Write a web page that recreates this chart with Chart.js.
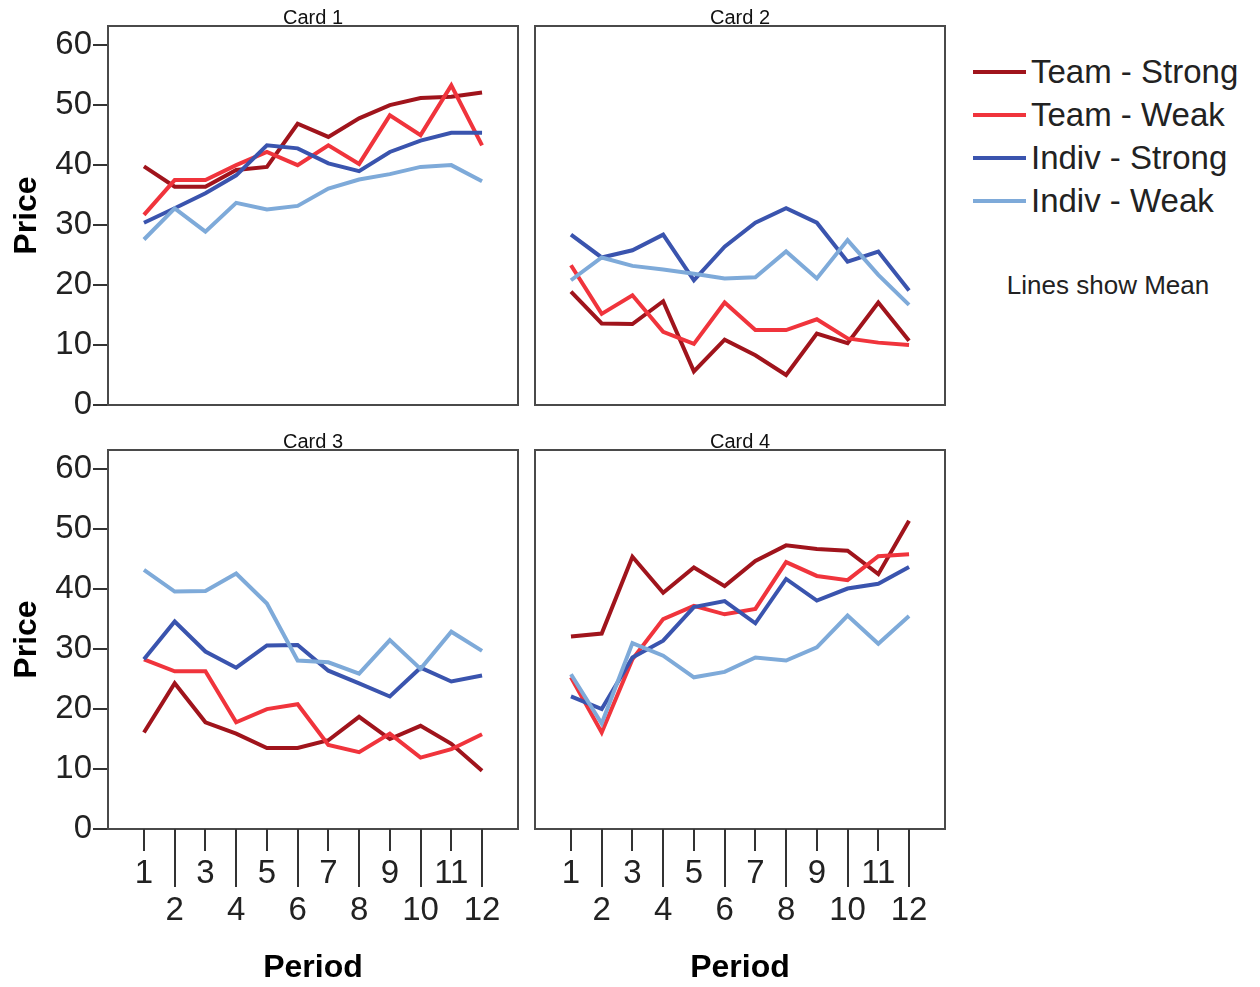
<!DOCTYPE html>
<html>
<head>
<meta charset="utf-8">
<script src="https://cdn.jsdelivr.net/npm/chart.js@4.4.1/dist/chart.umd.min.js"></script>
<style>
  body { margin: 0; background: #fff; width: 1260px; height: 987px; position: relative; overflow: hidden; font-family: "Liberation Sans", Arial, sans-serif; }
  canvas { position: absolute; }
  #legend { position: absolute; left: 973px; top: 50px; }
  .row { height: 43px; display: flex; align-items: center; font-size: 33px; color: #222; white-space: nowrap; }
  .sw { display: inline-block; width: 53px; height: 4px; margin-right: 5px; }
  #note { position: absolute; left: 990px; width: 236px; top: 270px; text-align: center; font-size: 26px; color: #222; }
</style>
</head>
<body>
<canvas id="c1" width="530" height="430" style="left:0;top:0"></canvas>
<canvas id="c2" width="430" height="430" style="left:530px;top:0"></canvas>
<canvas id="c3" width="530" height="563" style="left:0;top:424px"></canvas>
<canvas id="c4" width="430" height="563" style="left:530px;top:424px"></canvas>
<div id="legend"></div>
<div id="note">Lines show Mean</div>
<script>
const periods = [1, 2, 3, 4, 5, 6, 7, 8, 9, 10, 11, 12];
const yTicks = [0, 10, 20, 30, 40, 50, 60];
const seriesNames = ['Team - Strong', 'Team - Weak', 'Indiv - Strong', 'Indiv - Weak'];
const seriesColors = ['#a0141c', '#f0343c', '#3a54ae', '#7eaad9'];
const cardTitles = ['Card 1', 'Card 2', 'Card 3', 'Card 4'];

// Card 1
const teamStrong1 = [39.8, 36.4, 36.4, 39.2, 39.7, 46.9, 44.7, 47.8, 50.0, 51.2, 51.4, 52.1];
const teamWeak1   = [31.7, 37.5, 37.5, 40.0, 42.2, 40.0, 43.3, 40.2, 48.3, 45.0, 53.3, 43.3];
const indivStrong1= [30.4, 32.8, 35.3, 38.3, 43.3, 42.8, 40.3, 39.0, 42.2, 44.1, 45.4, 45.4];
const indivWeak1  = [27.6, 32.8, 28.9, 33.7, 32.6, 33.2, 36.1, 37.6, 38.5, 39.7, 40.0, 37.3];
// Card 2
const teamStrong2 = [18.9, 13.6, 13.5, 17.3, 5.6, 10.9, 8.3, 5.0, 11.9, 10.3, 17.1, 10.7];
const teamWeak2   = [23.3, 15.2, 18.3, 12.2, 10.2, 17.1, 12.5, 12.5, 14.3, 11.1, 10.4, 10.0];
const indivStrong2= [28.4, 24.6, 25.8, 28.4, 20.8, 26.4, 30.4, 32.8, 30.4, 23.9, 25.6, 19.1];
const indivWeak2  = [20.8, 24.6, 23.2, 22.6, 21.9, 21.1, 21.3, 25.6, 21.1, 27.5, 21.7, 16.7];
// Card 3
const teamStrong3 = [16.1, 24.3, 17.8, 15.9, 13.5, 13.5, 14.8, 18.7, 15.0, 17.2, 14.2, 9.7];
const teamWeak3   = [28.3, 26.3, 26.3, 17.8, 20.0, 20.8, 14.0, 12.8, 15.9, 11.9, 13.3, 15.8];
const indivStrong3= [28.3, 34.6, 29.6, 26.9, 30.6, 30.7, 26.4, 24.3, 22.1, 26.9, 24.6, 25.6];
const indivWeak3  = [43.2, 39.6, 39.7, 42.6, 37.6, 28.1, 27.8, 25.9, 31.5, 26.7, 32.9, 29.7];
// Card 4
const teamStrong4 = [32.1, 32.6, 45.4, 39.4, 43.6, 40.5, 44.7, 47.3, 46.7, 46.4, 42.5, 51.4];
const teamWeak4   = [25.3, 16.1, 28.3, 35.0, 37.2, 35.8, 36.7, 44.5, 42.2, 41.5, 45.5, 45.8];
const indivStrong4= [22.1, 20.0, 28.6, 31.4, 37.0, 38.0, 34.3, 41.7, 38.1, 40.1, 40.9, 43.7];
const indivWeak4  = [25.8, 17.6, 31.0, 28.9, 25.3, 26.2, 28.6, 28.1, 30.3, 35.6, 30.9, 35.5];

const FONT = '"Liberation Sans", Arial, sans-serif';

// box round the plot area
const framePlugin = {
  id: 'frame',
  afterDatasetsDraw(chart) {
    const a = chart.chartArea, ctx = chart.ctx;
    ctx.save();
    ctx.strokeStyle = '#4a4a4a'; ctx.lineWidth = 2;
    ctx.strokeRect(a.left, a.top, a.right - a.left, a.bottom - a.top);
    ctx.restore();
  }
};

// long ticks for even periods, short for odd ones
const xTickPlugin = {
  id: 'xticks',
  afterDraw(chart) {
    const sc = chart.scales.x;
    if (!sc.options.display) return;
    const ctx = chart.ctx, b = chart.chartArea.bottom;
    ctx.save();
    ctx.strokeStyle = '#333'; ctx.lineWidth = 2;
    sc.ticks.forEach(t => {
      const x = Math.round(sc.getPixelForValue(t.value));
      ctx.beginPath();
      ctx.moveTo(x, b);
      ctx.lineTo(x, b + (t.value % 2 ? 22 : 58));
      ctx.stroke();
    });
    ctx.restore();
  }
};

function makePanel(id, title, values, showY, showX, pad) {
  const datasets = values.map((vals, i) => ({
    label: seriesNames[i],
    data: periods.map((p, j) => ({x: p, y: vals[j]})),
    borderColor: seriesColors[i],
    borderWidth: 4,
    pointRadius: 0,
    tension: 0,
    order: 4 - i
  }));
  return new Chart(document.getElementById(id), {
    type: 'line',
    data: {datasets},
    plugins: [framePlugin, xTickPlugin],
    options: {
      responsive: false, animation: false,
      layout: {padding: pad},
      plugins: {
        legend: {display: false},
        tooltip: {enabled: false},
        title: {display: true, text: title, fullSize: false, color: '#111',
          font: {family: FONT, size: 20, weight: 'normal', lineHeight: 1}, padding: {top: 8, bottom: -2}}
      },
      scales: {
        x: {
          type: 'linear', min: -0.17, max: 13.17, display: showX,
          afterBuildTicks: s => { s.ticks = periods.map(v => ({value: v})); },
          afterFit: showX ? (s => { s.height = 158; }) : undefined,
          grid: {display: false, drawTicks: false},
          border: {display: false},
          ticks: {autoSkip: false, maxRotation: 0, minRotation: 0, padding: 27, color: '#222',
            font: {family: FONT, size: 33, lineHeight: 1.1},
            callback: v => v % 2 ? String(v) : ['', String(v)]},
          title: {display: true, text: 'Period', color: '#000',
            font: {family: FONT, size: 32, weight: 'bold'}, padding: 0}
        },
        y: {
          min: 0, max: 63.2, display: showY,
          afterBuildTicks: s => { s.ticks = yTicks.map(v => ({value: v})); },
          afterFit: showY ? (s => { s.width = 108; }) : undefined,
          grid: {drawOnChartArea: false, drawTicks: true, tickLength: 15, tickColor: '#333', lineWidth: 2},
          border: {display: false},
          ticks: {padding: 1, color: '#222', font: {family: FONT, size: 33}},
          title: {display: true, text: 'Price', color: '#000',
            font: {family: FONT, size: 32, weight: 'bold'}, padding: {top: 8, bottom: 0}}
        }
      }
    }
  });
}

makePanel('c1', cardTitles[0], [teamStrong1, teamWeak1, indivStrong1, indivWeak1], true, false, {top: 0, left: 0, right: 12, bottom: 25});
makePanel('c2', cardTitles[1], [teamStrong2, teamWeak2, indivStrong2, indivWeak2], false, false, {top: 0, left: 5, right: 15, bottom: 25});
makePanel('c3', cardTitles[2], [teamStrong3, teamWeak3, indivStrong3, indivWeak3], true, true, {top: 0, left: 0, right: 12, bottom: 0});
makePanel('c4', cardTitles[3], [teamStrong4, teamWeak4, indivStrong4, indivWeak4], false, true, {top: 0, left: 5, right: 15, bottom: 0});

const legend = document.getElementById('legend');
seriesNames.forEach((name, i) => {
  const row = document.createElement('div');
  row.className = 'row';
  const sw = document.createElement('span');
  sw.className = 'sw';
  sw.style.background = seriesColors[i];
  row.appendChild(sw);
  row.appendChild(document.createTextNode(name));
  legend.appendChild(row);
});
</script>
</body>
</html>
